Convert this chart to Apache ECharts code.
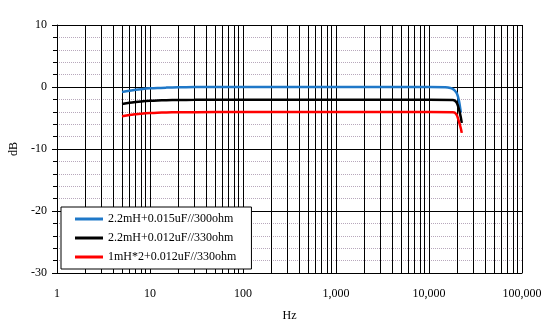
<!DOCTYPE html>
<html><head><meta charset="utf-8">
<script src="https://cdn.jsdelivr.net/npm/echarts@6/dist/echarts.min.js"></script>
<style>html,body{margin:0;padding:0;background:#fff}#c{width:559px;height:334px}</style>
</head><body><div id="c"></div>
<script>
const seriesNames = ['2.2mH+0.015uF//300ohm', '2.2mH+0.012uF//330ohm', '1mH*2+0.012uF//330ohm'];
const blueData = [[5,-0.8],[6,-0.6],[7,-0.45],[8,-0.35],[10,-0.22],[12,-0.15],[15,-0.1],[20,-0.05],[30,-0.02],[50,0],[100,0],[1000,0],[10000,0],[15000,-0.05],[17000,-0.15],[18000,-0.3],[19000,-0.6],[20000,-1.1],[21000,-2.2],[22000,-4.1]];
const blackData = [[5,-2.75],[6,-2.55],[7,-2.42],[8,-2.33],[10,-2.22],[12,-2.16],[15,-2.12],[20,-2.09],[30,-2.07],[50,-2.05],[100,-2.05],[1000,-2.05],[10000,-2.05],[18000,-2.08],[19000,-2.2],[20000,-2.6],[21000,-3.6],[22000,-4.9],[22500,-5.8]];
const redData = [[5,-4.72],[6,-4.5],[7,-4.38],[8,-4.3],[10,-4.2],[12,-4.14],[15,-4.1],[20,-4.08],[50,-4.05],[100,-4.05],[1000,-4.05],[10000,-4.05],[18000,-4.07],[19000,-4.15],[20000,-4.6],[21000,-5.6],[22000,-6.7],[22500,-7.4]];
const minorX = [];
[1,10,100,1000,10000].forEach(d => { for (let k = 2; k <= 9; k++) minorX.push(d * k); });
const colors = ['#1f78c8', '#000000', '#ff0000'];
const font = 'Liberation Serif';

const chart = echarts.init(document.getElementById('c'));
const mk = (name, data, color, withMarks) => ({
  name, type: 'line', data, showSymbol: false, symbol: 'none', smooth: 0.3,
  lineStyle: { color, width: 2.5 }, itemStyle: { color }, z: 2,
  markLine: withMarks ? {
    silent: true, symbol: 'none', animation: false, label: { show: false }, z: 1,
    lineStyle: { color: '#000', width: 1, type: 'solid' },
    data: minorX.map(v => ({ xAxis: v }))
  } : undefined
});
chart.setOption({
  animation: false,
  textStyle: { fontFamily: font },
  grid: { left: 57, top: 25, right: 37, bottom: 61, show: false },
  xAxis: {
    type: 'log', logBase: 10, min: 1, max: 100000, name: 'Hz', nameLocation: 'middle', nameGap: 37,
    nameTextStyle: { fontFamily: font, fontSize: 12, color: '#000' },
    axisLine: { show: true, onZero: false, lineStyle: { color: '#000', width: 1 } },
    axisTick: { show: false },
    axisLabel: { fontFamily: font, fontSize: 12, color: '#000', margin: 15,
      formatter: v => Number(v).toLocaleString('en-US') },
    splitLine: { show: true, lineStyle: { color: '#000', width: 1 } }
  },
  yAxis: {
    type: 'value', min: -30, max: 10, interval: 10, name: 'dB', nameLocation: 'middle', nameGap: 36, nameRotate: 90,
    nameTextStyle: { fontFamily: font, fontSize: 12, color: '#000' },
    axisLine: { show: true, lineStyle: { color: '#000', width: 1 } },
    axisTick: { show: true, inside: false, length: 5, lineStyle: { color: '#000' } },
    minorTick: { show: true, splitNumber: 5, length: 4, lineStyle: { color: '#000' } },
    axisLabel: { fontFamily: font, fontSize: 12, color: '#000', margin: 10 },
    splitLine: { show: true, lineStyle: { color: '#000', width: 1 } },
    minorSplitLine: { show: true, lineStyle: { color: '#b8a8bc', width: 1, type: [1, 1] } }
  },
  legend: {
    orient: 'vertical', left: 61, top: 207, z: 20,
    backgroundColor: '#fff', borderColor: '#000', borderWidth: 1,
    padding: [6, 15, 6, 14], itemGap: 7, itemWidth: 28, itemHeight: 3, icon: 'rect',
    textStyle: { fontFamily: font, fontSize: 12, color: '#000' },
    data: seriesNames
  },
  series: [
    mk(seriesNames[0], blueData, colors[0], true),
    mk(seriesNames[1], blackData, colors[1], false),
    mk(seriesNames[2], redData, colors[2], false)
  ]
});
</script></body></html>
